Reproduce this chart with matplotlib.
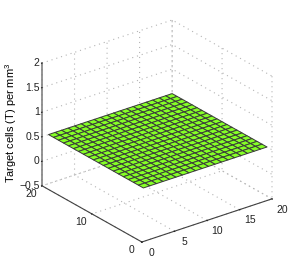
import matplotlib
matplotlib.use("Agg")
import matplotlib.pyplot as plt
from matplotlib.transforms import Affine2D
import numpy as np
from mpl_toolkits.mplot3d import proj3d

plt.rcParams['font.family'] = ['Liberation Sans', 'DejaVu Sans']
plt.rcParams['mathtext.fontset'] = 'custom'
plt.rcParams['mathtext.rm'] = 'Liberation Sans'
plt.rcParams['mathtext.default'] = 'regular'

x_values = list(range(1, 21))
y_values = list(range(1, 21))
z_level = 0.5
x_ticks = [0, 5, 10, 15, 20]
y_ticks = [0, 10, 20]
z_ticks = [-0.5, 0, 0.5, 1, 1.5, 2]
z_labels = ['\u22120.5', '0', '0.5', '1', '1.5', '2']
z_title = 'Target cells (T) per mm$^3$'

W, H = 300, 273
fig = plt.figure(figsize=(W / 100, H / 100), dpi=100)
ax = fig.add_axes([0.1, 0.1, 0.8, 0.8], projection='3d', proj_type='ortho')
ax.apply_aspect = lambda position=None: None
ax.view_init(elev=30, azim=-127.5)
ax.set_box_aspect((1, 1, 1))
ax.set_xlim3d(0, 20, view_margin=0)
ax.set_ylim3d(0, 20, view_margin=0)
ax.set_zlim3d(-0.5, 2, view_margin=0)

X, Y = np.meshgrid(x_values, y_values)
Z = np.full(X.shape, z_level)
ax.plot_surface(X, Y, Z, rstride=1, cstride=1, color='#85ff26', shade=False,
                edgecolor='#3a3a3a', linewidth=0.7)

ax.set_xticks(x_ticks, [str(t) for t in x_ticks], fontsize=7.5)
ax.set_yticks(y_ticks, [str(t) for t in y_ticks], fontsize=7.5)
ax.set_zticks(z_ticks, z_labels, fontsize=7.5)
ax.zaxis.set_ticks_position('upper')
ax.zaxis.set_label_position('upper')
ax.set_zlabel(z_title, fontsize=7.9, rotation=90, labelpad=-8)
ax.zaxis.set_rotate_label(False)

for axis in (ax.xaxis, ax.yaxis, ax.zaxis):
    axis.set_pane_color((1, 1, 1, 0))
    axis.pane.set_edgecolor((1, 1, 1, 0))
    axis.line.set_color('#404040')
    axis.line.set_linewidth(0.8)
    axis._axinfo['grid'].update(color='#b4b4b4', linestyle=(0, (1, 3.5)), linewidth=0.8)
    axis._axinfo['tick'].update(inward_factor=0.04, outward_factor=0.0)
    axis.set_tick_params(colors='#222222', pad=-6, width=0.5, length=2)
ax.zaxis.set_tick_params(pad=-2)
ax.zaxis.line.set_color('#777777')
ax.zaxis.line.set_linewidth(1.1)

# nudge the tick labels, in pixels, to where the reference prints them
# (Axis3D.get_major_ticks resets the transforms, so this wraps that call)
def nudge(axis, dx, dy):
    original = axis.get_major_ticks
    def wrapped(numticks=None):
        ticks = original(numticks)
        for tick in ticks:
            tick.label1.set_transform(ax.transData + Affine2D().translate(dx, dy))
        return ticks
    axis.get_major_ticks = wrapped

nudge(ax.xaxis, 8, -2)
nudge(ax.yaxis, -8, 0)
nudge(ax.zaxis, 12, 4)
for tick in ax.zaxis.get_major_ticks():
    tick.label1.set_ha('right')

# place the axes so that the box corners land where the reference has them
M = ax.get_proj()
def proj(x, y, z):
    u, v, _ = proj3d.proj_transform(x, y, z, M)
    return float(u), float(v)
uL, _ = proj(0, 20, -0.5)
uR, _ = proj(20, 0, -0.5)
_, vF = proj(0, 0, -0.5)
_, vT = proj(20, 20, 2)
xl, xh = ax.viewLim.intervalx
yl, yh = ax.viewLim.intervaly
sx = (272 - 42) / (uR - uL)
sy = (242 - 20) / (vT - vF)
left = 42 + (xl - uL) * sx
bottom = (H - 242) + (yl - vF) * sy
ax.set_position([left / W, bottom / H, (xh - xl) * sx / W, (yh - yl) * sy / H])

fig.savefig('out.png', dpi=100)
